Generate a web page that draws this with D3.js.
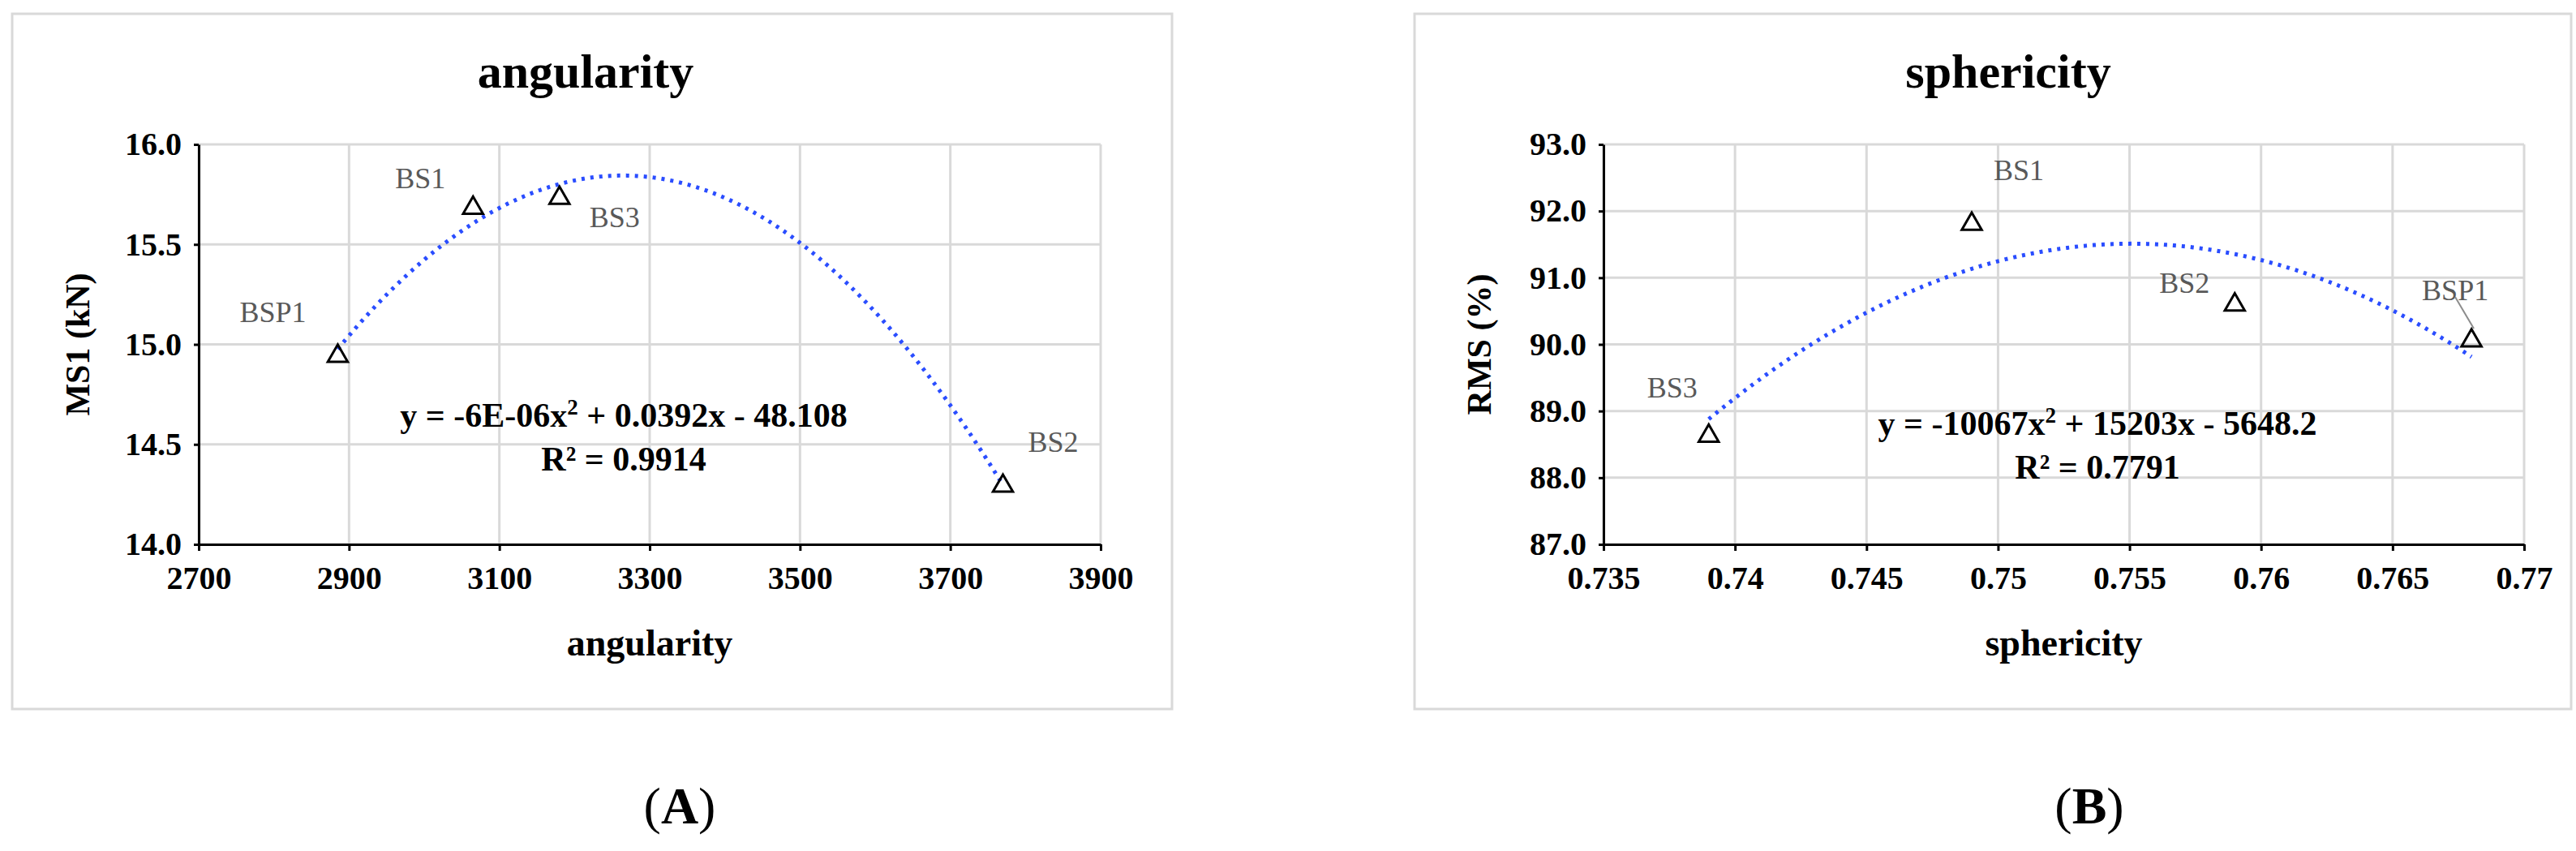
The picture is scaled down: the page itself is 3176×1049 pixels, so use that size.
<!DOCTYPE html><html><head><meta charset="utf-8">
<script src="https://d3js.org/d3.v7.min.js"></script>
<style>body{margin:0;background:#fff}svg{display:block}text{font-family:"Liberation Serif","Times New Roman",serif}</style>
</head><body><svg id="c" width="3176" height="1049"></svg>
<script>
const aLabels=["BSP1","BS1","BS3","BS2"];
const aX=[2885,3065,3180,3770];
const aY=[14.95,15.69,15.74,14.30];
const aXTicks=[2700,2900,3100,3300,3500,3700,3900];
const aYTicks=[14.0,14.5,15.0,15.5,16.0];
const bLabels=["BS3","BS1","BS2","BSP1"];
const bX=[0.739,0.749,0.759,0.768];
const bY=[88.65,91.83,90.62,90.08];
const bXTicks=[0.735,0.74,0.745,0.75,0.755,0.76,0.765,0.77];
const bYTicks=[87,88,89,90,91,92,93];

const svg=d3.select("#c");
function fit(xs,ys){
  const m=d3.mean(xs),s=d3.deviation(xs)||1;
  const u=xs.map(x=>(x-m)/s);
  let S=[[0,0,0],[0,0,0],[0,0,0]],T=[0,0,0];
  u.forEach((x,i)=>{const p=[1,x,x*x];for(let a=0;a<3;a++){T[a]+=p[a]*ys[i];for(let b=0;b<3;b++)S[a][b]+=p[a]*p[b];}});
  for(let i=0;i<3;i++){for(let j=i+1;j<3;j++){const f=S[j][i]/S[i][i];for(let k=i;k<3;k++)S[j][k]-=f*S[i][k];T[j]-=f*T[i];}}
  const c=[0,0,0];for(let i=2;i>=0;i--){let v=T[i];for(let k=i+1;k<3;k++)v-=S[i][k]*c[k];c[i]=v/S[i][i];}
  return x=>{const t=(x-m)/s;return c[0]+c[1]*t+c[2]*t*t;};
}
function panel(o){
  const g=svg.append("g");
  g.append("rect").attr("x",o.fx).attr("y",17).attr("width",o.fw).attr("height",857).attr("fill","#fff").attr("stroke","#d9d9d9").attr("stroke-width",3);
  const x=d3.scaleLinear().domain(o.xd).range([o.l,o.r]);
  const y=d3.scaleLinear().domain(o.yd).range([671,178]);
  g.append("g").selectAll("line").data(o.xt).join("line").attr("x1",d=>x(d)).attr("x2",d=>x(d)).attr("y1",178).attr("y2",671).attr("stroke","#d9d9d9").attr("stroke-width",3);
  g.append("g").selectAll("line").data(o.yt).join("line").attr("y1",d=>y(d)).attr("y2",d=>y(d)).attr("x1",o.l).attr("x2",o.r).attr("stroke","#d9d9d9").attr("stroke-width",3);
  const xa=g.append("g").attr("transform","translate(0,671)").call(d3.axisBottom(x).tickValues(o.xt).tickFormat(o.xf).tickSize(8).tickSizeOuter(0));
  const ya=g.append("g").attr("transform",`translate(${o.l},0)`).call(d3.axisLeft(y).tickValues(o.yt).tickFormat(d3.format(".1f")).tickSize(6).tickSizeOuter(0));
  [xa,ya].forEach(a=>{a.select(".domain").attr("stroke","#000").attr("stroke-width",3);a.selectAll(".tick line").attr("stroke","#000").attr("stroke-width",3);
    a.selectAll("text").attr("font-family","Liberation Serif").attr("font-weight","bold").attr("font-size",40).attr("fill","#000");});
  xa.selectAll("text").attr("dy","1.1em");
  ya.selectAll("text").attr("dx","-0.3em");
  const f=fit(o.xs,o.ys);
  const pts=d3.range(0,201).map(i=>{const xv=o.xs[0]+(o.xs[o.xs.length-1]-o.xs[0])*i/200;return [x(xv),y(f(xv))];});
  g.append("path").attr("d",d3.line()(pts)).attr("fill","none").attr("stroke","#2a4dff").attr("stroke-width",5).attr("stroke-dasharray","4,7");
  const tri=d3.symbol().type(d3.symbolTriangle).size(260);
  g.selectAll(".pt").data(o.xs).join("path").attr("d",tri).attr("transform",(d,i)=>`translate(${x(d)},${y(o.ys[i])+2})`).attr("fill","none").attr("stroke","#000").attr("stroke-width",3);
  o.lab.forEach((t,i)=>g.append("text").attr("x",x(o.xs[i])+o.off[i][0]).attr("y",y(o.ys[i])+o.off[i][1]).attr("text-anchor","middle").attr("font-size",36).attr("fill","#595959").text(t));
  if(o.leader) g.append("line").attr("x1",o.leader[0]).attr("y1",o.leader[1]).attr("x2",o.leader[2]).attr("y2",o.leader[3]).attr("stroke","#8c8c8c").attr("stroke-width",2);
  g.append("text").attr("x",o.tx).attr("y",108).attr("text-anchor","middle").attr("font-weight","bold").attr("font-size",60).text(o.title);
  g.append("text").attr("x",(o.l+o.r)/2).attr("y",808).attr("text-anchor","middle").attr("font-weight","bold").attr("font-size",46).text(o.title);
  g.append("text").attr("transform",`translate(${o.yx},${(178+671)/2}) rotate(-90)`).attr("text-anchor","middle").attr("font-weight","bold").attr("font-size",42).text(o.ytitle);
  const eq=g.append("text").attr("x",o.ex).attr("y",o.ey).attr("text-anchor","middle").attr("font-weight","bold").attr("font-size",42);
  eq.append("tspan").text(o.eq[0]);eq.append("tspan").attr("font-size",27).attr("dy",-15).text("2");eq.append("tspan").attr("dy",15).text(" "+o.eq[1]);
  g.append("text").attr("x",o.ex).attr("y",o.ey+54).attr("text-anchor","middle").attr("font-weight","bold").attr("font-size",42).text(o.r2);
  g.append("text").attr("x",o.px).attr("y",1015).attr("text-anchor","middle").attr("font-size",64).html(`(<tspan font-weight="bold">${o.pl}</tspan>)`);
}
panel({fx:15,fw:1430,xd:[2700,3900],yd:[14,16],l:245,r:1357,xt:aXTicks,yt:aYTicks,xf:d3.format("d"),xs:aX,ys:aY,lab:aLabels,
  off:[[-80,-40],[-65,-22],[68,38],[62,-40]],title:"angularity",tx:722,ytitle:"MS1 (kN)",yx:110,ex:769,ey:526,eq:["y = -6E-06x","+ 0.0392x - 48.108"],r2:"R² = 0.9914",px:838,pl:"A"});
panel({fx:1744,fw:1426,xd:[0.735,0.77],yd:[87,93],l:1977,r:3112,xt:bXTicks,yt:bYTicks,xf:d=>d3.format("")(+d.toFixed(3)),xs:bX,ys:bY,lab:bLabels,
  off:[[-45,-45],[58,-52],[-62,-13],[-20,-48]],title:"sphericity",tx:2476,ytitle:"RMS (%)",yx:1838,ex:2586,ey:536,eq:["y = -10067x","+ 15203x - 5648.2"],r2:"R² = 0.7791",px:2576,pl:"B",
  leader:[3027,366,3050,405]});
</script></body></html>
